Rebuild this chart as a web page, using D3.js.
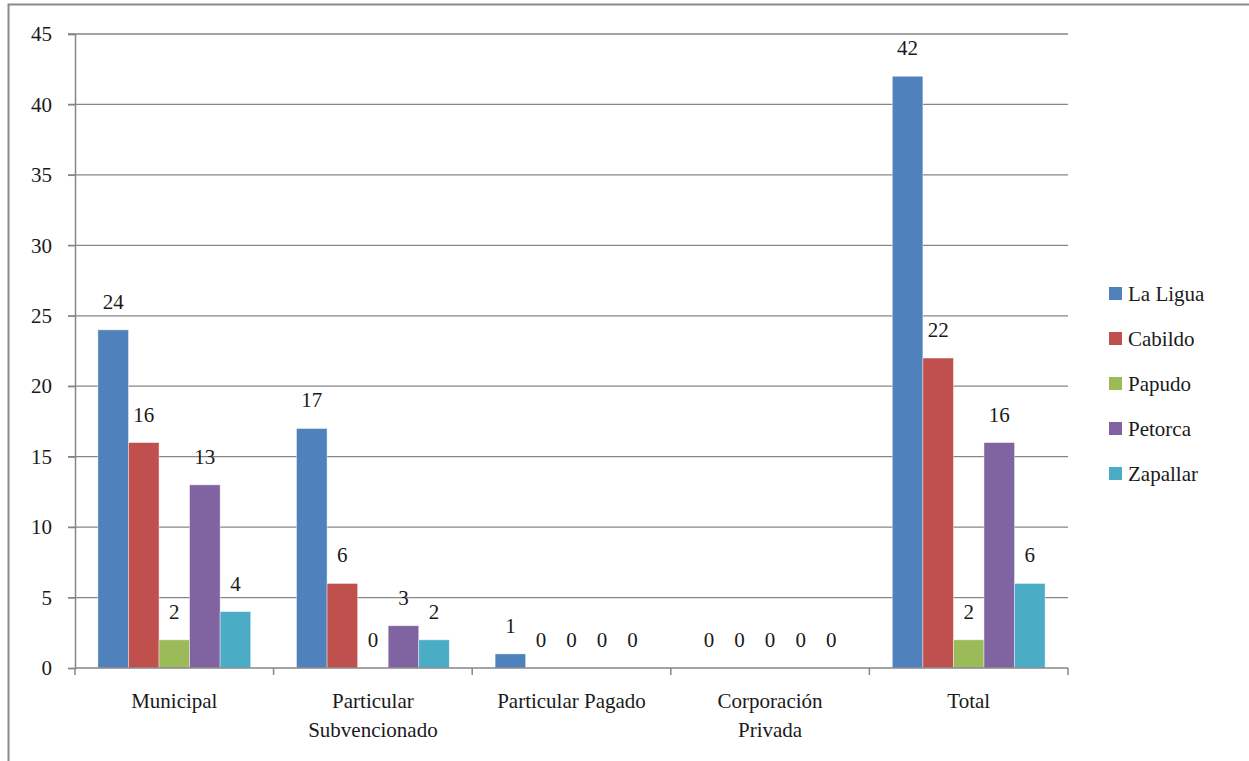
<!DOCTYPE html>
<html>
<head>
<meta charset="utf-8">
<script src="https://cdn.jsdelivr.net/npm/d3@7"></script>
<style>
html,body{margin:0;padding:0;background:#fff;}
</style>
</head>
<body>
<div id="wrap"></div>
<script>
const categories = [["Municipal"], ["Particular", "Subvencionado"], ["Particular Pagado"], ["Corporación", "Privada"], ["Total"]];
const series = ["La Ligua", "Cabildo", "Papudo", "Petorca", "Zapallar"];
const colors = ["#4F81BD", "#C0504D", "#9BBB59", "#8064A2", "#4BACC6"];
const laLigua = [24, 17, 1, 0, 42];
const cabildo = [16, 6, 0, 0, 22];
const papudo = [2, 0, 0, 0, 2];
const petorca = [13, 3, 0, 0, 16];
const zapallar = [4, 2, 0, 0, 6];
const yTicks = [0, 5, 10, 15, 20, 25, 30, 35, 40, 45];

const values = [laLigua, cabildo, papudo, petorca, zapallar];
const FONT = "Times New Roman, Liberation Serif, Times, DejaVu Serif, Noto Serif, serif";
const svg = d3.select("#wrap").append("svg").attr("width", 1249).attr("height", 761)
  .style("display", "block").attr("font-family", FONT);
const pLeft = 75, pRight = 1068, pTop = 34, pBottom = 668;
const fs = 21;
const serifText = sel => sel.attr("font-family", FONT).attr("font-size", fs).attr("fill", "#1a1a1a");

// outer border
svg.append("rect").attr("x", 8.5).attr("y", 4.5).attr("width", 1260).attr("height", 780)
  .attr("fill", "none").attr("stroke", "#898989").attr("stroke-width", 2);

const catIdx = d3.range(categories.length);
const x0 = d3.scaleBand().domain(catIdx).range([pLeft, pRight]).paddingInner(0).paddingOuter(0);
const x1 = d3.scaleBand().domain(d3.range(series.length)).range([0, x0.bandwidth()]).paddingInner(0).paddingOuter(0.75);
const y = d3.scaleLinear().domain([0, 45]).range([pBottom, pTop]);

// gridlines
svg.append("g").selectAll("line").data(yTicks.filter(t => t > 0)).join("line")
  .attr("x1", pLeft - 7).attr("x2", pRight)
  .attr("y1", d => y(d)).attr("y2", d => y(d))
  .attr("stroke", "#868686").attr("stroke-width", 1.3);

// y axis
const yAxis = d3.axisLeft(y).tickValues(yTicks).tickSize(7).tickPadding(16).tickFormat(d3.format("d"));
const gy = svg.append("g").attr("transform", `translate(${pLeft},0)`).call(yAxis);
gy.attr("font-family", FONT).attr("font-size", fs);
gy.select(".domain").attr("stroke", "#868686").attr("stroke-width", 1.5);
gy.selectAll(".tick line").attr("stroke", "#868686").attr("stroke-width", 1.3);
gy.selectAll(".tick text").call(serifText);

// bars
const groups = svg.append("g").selectAll("g").data(catIdx).join("g")
  .attr("transform", c => `translate(${x0(c)},0)`);
groups.selectAll("rect").data(c => series.map((s, i) => ({i, v: values[i][c]}))).join("rect")
  .attr("x", d => x1(d.i)).attr("width", x1.bandwidth())
  .attr("y", d => y(d.v)).attr("height", d => y(0) - y(d.v))
  .attr("fill", d => colors[d.i]).attr("stroke", "#fff").attr("stroke-opacity", 0.5).attr("stroke-width", 0.8);
groups.selectAll("text").data(c => series.map((s, i) => ({i, v: values[i][c]}))).join("text")
  .attr("x", d => x1(d.i) + x1.bandwidth() / 2).attr("y", d => y(d.v) - 21)
  .attr("text-anchor", "middle").call(serifText)
  .text(d => d.v);

// x axis
const gx = svg.append("g").attr("transform", `translate(0,${pBottom})`);
gx.append("line").attr("x1", pLeft).attr("x2", pRight).attr("stroke", "#868686").attr("stroke-width", 1.5);
gx.selectAll("line.t").data(d3.range(categories.length + 1)).join("line").attr("class", "t")
  .attr("x1", i => pLeft + i * x0.bandwidth()).attr("x2", i => pLeft + i * x0.bandwidth())
  .attr("y1", 0).attr("y2", 7).attr("stroke", "#868686").attr("stroke-width", 1.5);
gx.selectAll("text").data(catIdx).join("text")
  .attr("x", c => x0(c) + x0.bandwidth() / 2).attr("y", 40)
  .attr("text-anchor", "middle").call(serifText)
  .each(function(c) {
    d3.select(this).selectAll("tspan").data(categories[c]).join("tspan")
      .attr("x", x0(c) + x0.bandwidth() / 2).attr("dy", (d, k) => k === 0 ? 0 : 29).text(d => d);
  });

// legend
const lg = svg.append("g").selectAll("g").data(series).join("g")
  .attr("transform", (d, i) => `translate(1109,${294 + i * 45})`);
lg.append("rect").attr("x", 0).attr("y", -7).attr("width", 13).attr("height", 13).attr("fill", (d, i) => colors[i]);
lg.append("text").attr("x", 19).attr("y", 7).call(serifText).text(d => d);
</script>
</body>
</html>
